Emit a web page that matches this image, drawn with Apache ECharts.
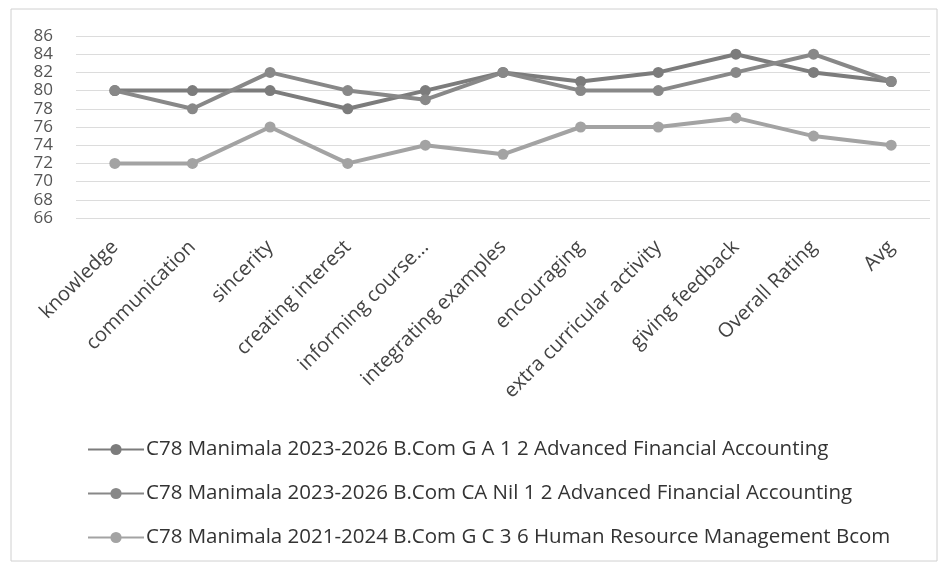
<!DOCTYPE html>
<html><head><meta charset="utf-8">
<script src="https://cdn.jsdelivr.net/npm/echarts@6/dist/echarts.min.js"></script>
<style>html,body{margin:0;padding:0;background:#fff}#c{width:942px;height:568px}</style>
</head><body><div id="c"></div>
<script>
const categories = ["knowledge","communication","sincerity","creating interest","informing course...","integrating examples","encouraging","extra curricular activity","giving feedback","Overall Rating","Avg"];
const seriesNames = [
  "C78 Manimala 2023-2026 B.Com G A 1 2 Advanced Financial Accounting",
  "C78 Manimala 2023-2026 B.Com CA Nil 1 2 Advanced Financial Accounting",
  "C78 Manimala 2021-2024 B.Com G C 3 6 Human Resource Management Bcom"
];
const seriesA = [80, 80, 80, 78, 80, 82, 81, 82, 84, 82, 81];
const seriesB = [80, 78, 82, 80, 79, 82, 80, 80, 82, 84, 81];
const seriesC = [72, 72, 76, 72, 74, 73, 76, 76, 77, 75, 74];
const yTicks = {min: 66, max: 86, interval: 2};

const font = '"Open Sans", sans-serif';
const colors = ['#7c7c7c', '#888888', '#a3a3a3'];
const chart = echarts.init(document.getElementById('c'));
function mk(name, data, color) {
  return {
    name, type: 'line', data,
    symbol: 'circle', symbolSize: 11,
    lineStyle: {width: 4, color},
    itemStyle: {color},
    animation: false
  };
}
chart.setOption({
  backgroundColor: '#fff',
  color: colors,
  textStyle: {fontFamily: font},
  graphic: [{type: 'rect', shape: {x: 11, y: 9, width: 926, height: 552},
    style: {fill: 'none', stroke: '#d0d0d0', lineWidth: 1}, silent: true}],
  grid: {left: 76, right: 12, top: 36, bottom: 350, containLabel: false},
  xAxis: {
    type: 'category', data: categories, boundaryGap: true,
    axisLine: {show: false}, axisTick: {show: false},
    axisLabel: {rotate: 45, interval: 0, fontSize: 20, color: '#444', fontFamily: font, margin: 26}
  },
  yAxis: {
    type: 'value', min: yTicks.min, max: yTicks.max, interval: yTicks.interval,
    axisLine: {show: false}, axisTick: {show: false},
    axisLabel: {fontSize: 17, color: '#555', fontFamily: font, margin: 23},
    splitLine: {lineStyle: {color: '#dcdcdc', width: 1}}
  },
  legend: {
    orient: 'vertical', left: 82, top: 434, itemGap: 23, itemWidth: 56, itemHeight: 14,
    textStyle: {fontSize: 20.5, color: '#333', fontFamily: font, padding: [0, 0, 0, -3]},
    data: seriesNames
  },
  series: [mk(seriesNames[0], seriesA, colors[0]), mk(seriesNames[1], seriesB, colors[1]), mk(seriesNames[2], seriesC, colors[2])]
});
</script></body></html>
